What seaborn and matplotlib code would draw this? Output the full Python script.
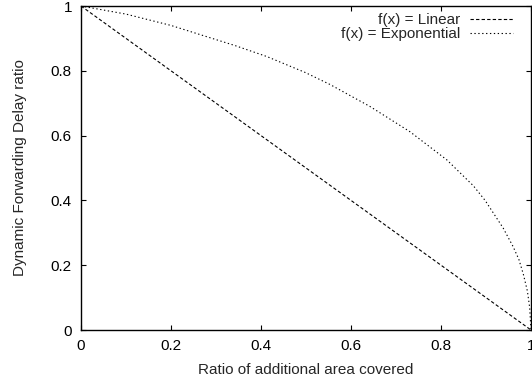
import matplotlib
matplotlib.use("Agg")
import matplotlib.pyplot as plt
import seaborn as sns
import pandas as pd

# Data
linear_x = [0.0, 1.0]
linear_y = [1.0, 0.0]
exp_x = [0.0, 0.1, 0.2, 0.264, 0.342, 0.413, 0.498, 0.553, 0.642, 0.731, 0.813,
         0.872, 0.898, 0.938, 0.96, 0.973, 0.983, 0.992, 0.997, 1.0]
exp_y = [1.0, 0.975, 0.940, 0.912, 0.878, 0.844, 0.795, 0.758, 0.690, 0.612, 0.525,
         0.445, 0.400, 0.315, 0.258, 0.218, 0.172, 0.120, 0.070, 0.0]
series_names = ["f(x) = Linear", "f(x) = Exponential"]
x_ticks = [0, 0.2, 0.4, 0.6, 0.8, 1]
x_ticklabels = ["0", "0.2", "0.4", "0.6", "0.8", "1"]
y_ticks = [0, 0.2, 0.4, 0.6, 0.8, 1]
y_ticklabels = ["0", "0.2", "0.4", "0.6", "0.8", "1"]

df = pd.concat([
    pd.DataFrame({"x": linear_x, "y": linear_y, "series": series_names[0]}),
    pd.DataFrame({"x": exp_x, "y": exp_y, "series": series_names[1]}),
], ignore_index=True)

sns.set_style("ticks")
plt.rcParams["font.family"] = ["Liberation Sans", "DejaVu Sans"]
plt.rcParams["font.size"] = 11

fig = plt.figure(figsize=(5.32, 3.85), dpi=100)
ax = fig.add_axes([81 / 532, 55 / 385, 450 / 532, 324 / 385])

sns.lineplot(data=df, x="x", y="y", style="series", hue="series",
             palette={series_names[0]: "black", series_names[1]: "black"},
             dashes={series_names[0]: (3, 2), series_names[1]: (1.2, 2.3)},
             linewidth=0.8, sort=False, ax=ax, legend=True)

ax.set_xlim(0, 1)
ax.set_ylim(0, 1)
ax.set_xticks(x_ticks)
ax.set_xticklabels(x_ticklabels)
ax.set_yticks(y_ticks)
ax.set_yticklabels(y_ticklabels)
ax.tick_params(direction="in", length=3.5, width=0.8, top=True, right=True,
               labelsize=11, pad=6.5, colors="black")
for s in ax.spines.values():
    s.set_visible(True)
    s.set_linewidth(1.0)
    s.set_color("black")

ax.set_xlabel("Ratio of additional area covered", fontsize=11, labelpad=7)
ax.set_ylabel("Dynamic Forwarding Delay ratio", fontsize=11, labelpad=17)

handles, labels = ax.get_legend_handles_labels()
ax.legend(handles, labels, loc="upper right", bbox_to_anchor=(0.96, 0.978),
          frameon=False, markerfirst=False, borderpad=0, borderaxespad=0,
          handlelength=2.8, handletextpad=0.65, labelspacing=0.0, fontsize=11)

fig.savefig("out.png", dpi=100)
